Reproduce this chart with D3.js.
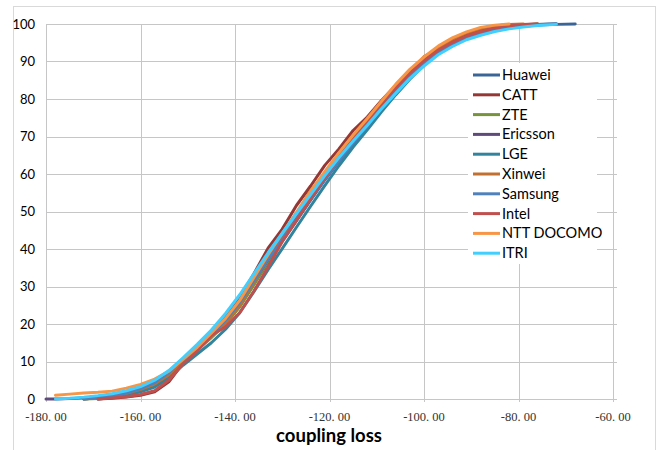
<!DOCTYPE html>
<html>
<head>
<meta charset="utf-8">
<script src="https://cdn.jsdelivr.net/npm/d3@7"></script>
<style>
  body { margin: 0; background: #fff; }
  svg { display: block; }
</style>
</head>
<body>
<div id="chart"></div>
<script>
// Coupling loss CDF, one line per company

// x grid (coupling loss, dB) shared by all series
const lossGrid = [-180, -178, -175, -172, -169, -166, -163, -160, -157, -154, -151, -148,
  -145, -142, -139, -136, -133, -130, -127, -124, -121, -118, -115, -112, -109, -106,
  -103, -100, -97, -94, -91, -88, -85, -82, -79, -76, -72, -68];

// CDF values (%), null where the line is absent
const huawei = [null, null, null, 0, 0.4, 0.9, 1.6, 2.6, 4.0, 6.6, 10.2, 13.3, 16.5, 20.2, 24.7,
  30.6, 36.5, 42.0, 47.5, 53.0, 58.4, 63.4, 68.0, 72.5, 77.4, 81.6, 85.7, 89.2, 92.2, 94.4,
  96.1, 97.3, 98.2, 98.9, 99.4, 99.7, 99.9, 100];
const catt = [null, null, null, null, 0, 0.2, 0.5, 1.0, 1.9, 4.6, 9.6, 13.5, 17.4, 21.8, 27.0,
  33.4, 40.2, 45.3, 51.6, 56.8, 62.3, 66.7, 71.6, 75.2, 79.6, 83.6, 87.5, 90.8, 93.6, 95.7,
  97.3, 98.4, 99.2, 99.6, 99.9, 100, null, null];
const zte = [null, null, null, 0, 0.1, 0.5, 1.2, 2.2, 3.7, 6.3, 10.0, 13.1, 16.4, 20.0, 24.6,
  30.5, 36.8, 42.4, 48.0, 53.6, 59.0, 64.1, 68.8, 73.2, 78.0, 82.3, 86.3, 89.7, 92.7, 94.9,
  96.6, 97.8, 98.7, 99.3, 99.7, 100, null, null];
const ericsson = [0, 0, 0.1, 0.3, 0.6, 1.0, 1.7, 2.7, 4.1, 6.6, 10.3, 13.5, 17.0, 20.8, 25.5,
  31.4, 37.3, 42.8, 48.3, 53.9, 59.2, 64.1, 68.7, 73.0, 77.8, 82.1, 86.1, 89.6, 92.5, 94.7,
  96.4, 97.6, 98.5, 99.2, 99.6, 99.9, 100, null];
const lge = [null, null, null, null, 0, 0.4, 1.0, 1.9, 3.2, 5.6, 9.0, 12.0, 15.0, 18.6, 23.0,
  28.6, 34.5, 40.1, 45.8, 51.4, 56.9, 62.2, 67.2, 71.8, 76.6, 81.1, 85.3, 89.0, 92.1, 94.4,
  96.2, 97.4, 98.4, 99.1, 99.6, 99.9, 100, null];
const xinwei = [null, null, null, 0, 0.3, 0.8, 1.5, 2.6, 4.0, 6.5, 10.2, 13.2, 16.9, 20.3, 25.0,
  31.2, 37.6, 43.5, 49.4, 55.6, 60.0, 65.5, 70.0, 74.4, 79.0, 83.6, 87.0, 91.3, 93.3, 95.9,
  97.6, 98.8, 99.5, 99.9, 100, null, null, null];
const samsung = [null, null, null, 0, 0.3, 0.8, 1.6, 2.8, 4.4, 7.0, 10.5, 13.8, 17.3, 21.0, 25.8,
  31.6, 37.3, 42.6, 47.9, 53.3, 58.6, 63.6, 68.3, 72.8, 77.6, 81.9, 86.0, 89.5, 92.5, 94.6,
  96.3, 97.5, 98.4, 99.0, 99.5, 99.8, 100, null];
const intel = [null, null, null, null, 0, 0.3, 0.6, 1.2, 2.2, 5.0, 9.4, 12.8, 17.0, 19.2, 23.0,
  28.8, 35.2, 42.0, 47.6, 53.4, 59.0, 64.5, 69.4, 73.9, 78.6, 82.9, 86.9, 90.2, 93.0, 95.1,
  96.8, 98.0, 98.9, 99.5, 99.8, 100, null, null];
const nttDocomo = [null, 1.0, 1.3, 1.6, 1.8, 2.1, 2.9, 3.9, 5.3, 7.4, 10.6, 13.8, 17.6, 21.5, 26.3,
  32.4, 38.5, 44.2, 49.8, 55.4, 60.6, 65.7, 70.4, 74.8, 79.4, 83.9, 87.9, 91.2, 94.1, 96.3,
  97.9, 99.1, 99.7, 100, null, null, null, null];
const itri = [null, 0, 0.2, 0.5, 0.9, 1.4, 2.2, 3.3, 5.0, 7.6, 11.0, 14.6, 18.4, 22.8, 27.8,
  33.4, 39.0, 44.2, 49.4, 54.5, 59.6, 64.4, 68.8, 73.0, 77.4, 81.5, 85.5, 88.8, 91.8, 94.0,
  95.8, 97.0, 98.0, 98.7, 99.2, 99.6, 99.9, null];

const seriesNames = ["Huawei", "CATT", "ZTE", "Ericsson", "LGE", "Xinwei", "Samsung", "Intel", "NTT DOCOMO", "ITRI"];
const seriesValues = [huawei, catt, zte, ericsson, lge, xinwei, samsung, intel, nttDocomo, itri];
const seriesColors = ["#3b6596", "#953735", "#77933c", "#5f4a7c", "#31849b", "#c2702f", "#4f81bd", "#c0504d", "#f79646", "#40cfff"];

const xTicks = [-180, -160, -140, -120, -100, -80, -60];
const yTicks = [0, 10, 20, 30, 40, 50, 60, 70, 80, 90, 100];

// layout
const W = 660, H = 450;
const margin = { top: 24, right: 47, bottom: 51, left: 46 };
const width = W - margin.left - margin.right;
const height = H - margin.top - margin.bottom;

const svg = d3.select("#chart").append("svg")
  .attr("width", W)
  .attr("height", H);

// outer chart frame
svg.append("rect")
  .attr("x", 13.5).attr("y", 6.5)
  .attr("width", 642).attr("height", 460)
  .attr("fill", "#fff")
  .attr("stroke", "#d9d9d9");

const g = svg.append("g")
  .attr("transform", "translate(" + margin.left + "," + margin.top + ")");

const x = d3.scaleLinear().domain([-180, -60]).range([0, width]);
const y = d3.scaleLinear().domain([0, 100]).range([height, 0]);

// gridlines
g.append("g")
  .selectAll("line")
  .data(yTicks)
  .enter()
  .append("line")
  .attr("x1", 0).attr("x2", width + 4)
  .attr("y1", d => Math.round(y(d)) + 0.5).attr("y2", d => Math.round(y(d)) + 0.5)
  .attr("stroke", "#c6c6c6");

g.append("g")
  .selectAll("line")
  .data(xTicks)
  .enter()
  .append("line")
  .attr("x1", d => Math.round(x(d)) + 0.5).attr("x2", d => Math.round(x(d)) + 0.5)
  .attr("y1", 0).attr("y2", height + 3)
  .attr("stroke", "#c6c6c6");

// y tick labels
g.append("g")
  .selectAll("text")
  .data(yTicks)
  .enter()
  .append("text")
  .attr("x", -11)
  .attr("y", d => y(d))
  .attr("dy", "0.35em")
  .attr("text-anchor", "end")
  .style("font-family", "Lato, 'Liberation Sans', sans-serif")
  .style("font-size", "13px")
  .attr("fill", "#000")
  .text(d => d);

// x tick labels (serif, "-180. 00" style)
g.append("g")
  .selectAll("text")
  .data(xTicks)
  .enter()
  .append("text")
  .attr("x", d => x(d))
  .attr("y", height + 22)
  .attr("text-anchor", "middle")
  .style("font-family", "'Liberation Serif', 'DejaVu Serif', serif")
  .style("font-size", "12.5px")
  .attr("fill", "#333")
  .text(d => d + ". 00");

// axis title
svg.append("text")
  .attr("x", 329)
  .attr("y", 442)
  .attr("text-anchor", "middle")
  .style("font-family", "Lato, 'Liberation Sans', sans-serif")
  .style("font-size", "18.5px")
  .style("font-weight", "bold")
  .attr("fill", "#000")
  .text("coupling loss");

// lines
const line = d3.line()
  .defined(d => d[1] != null)
  .x(d => x(d[0]))
  .y(d => y(d[1]));

seriesValues.forEach(function (vals, i) {
  g.append("path")
    .datum(lossGrid.map((v, j) => [v, vals[j]]))
    .attr("fill", "none")
    .attr("stroke", seriesColors[i])
    .attr("stroke-width", 3)
    .attr("stroke-linejoin", "round")
    .attr("stroke-linecap", "round")
    .attr("d", line);
});

// legend
const legend = svg.append("g");
legend.append("rect")
  .attr("x", 468).attr("y", 63)
  .attr("width", 129).attr("height", 201)
  .attr("fill", "#fff");

const rows = legend.selectAll("g.row")
  .data(seriesNames)
  .enter()
  .append("g")
  .attr("class", "row")
  .attr("transform", (d, i) => "translate(473," + (75 + i * 19.8) + ")");

rows.append("line")
  .attr("x1", 0).attr("x2", 27)
  .attr("stroke", (d, i) => seriesColors[i])
  .attr("stroke-width", 3);

rows.append("text")
  .attr("x", 29)
  .attr("dy", "0.35em")
  .style("font-family", "Lato, 'Liberation Sans', sans-serif")
  .style("font-size", "14.5px")
  .attr("fill", "#000")
  .text(d => d);
</script>
</body>
</html>
